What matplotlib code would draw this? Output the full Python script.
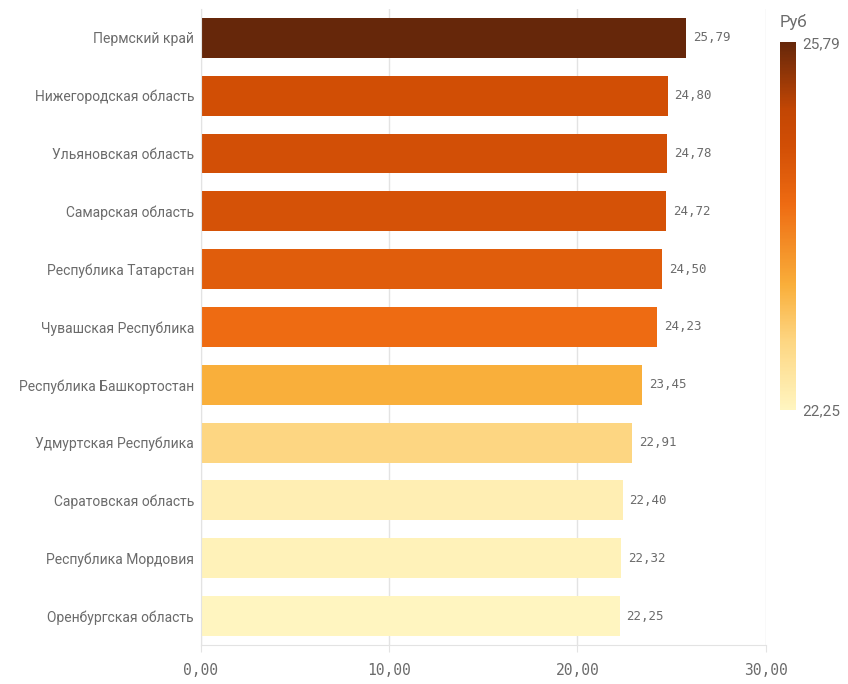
import matplotlib
matplotlib.use("Agg")
import matplotlib.pyplot as plt
import matplotlib.colors as mcolors
import matplotlib.cm as cm

regions = [
    "Пермский край",
    "Нижегородская область",
    "Ульяновская область",
    "Самарская область",
    "Республика Татарстан",
    "Чувашская Республика",
    "Республика Башкортостан",
    "Удмуртская Республика",
    "Саратовская область",
    "Республика Мордовия",
    "Оренбургская область",
]
values = [25.79, 24.80, 24.78, 24.72, 24.50, 24.23, 23.45, 22.91, 22.40, 22.32, 22.25]
x_ticks = [0, 10, 20, 30]

plt.rcParams["font.family"] = ["Roboto", "DejaVu Sans"]
text_color = "#6b6b6b"
grid_color = "#e3e3e3"

cmap = mcolors.LinearSegmentedColormap.from_list(
    "rub",
    [(0.0, "#fff5c0"), (0.19, "#fdd580"), (0.34, "#f9ae3a"), (0.56, "#ee6b12"),
     (0.72, "#d14e05"), (0.82, "#c24604"), (1.0, "#66270a")],
)
norm = mcolors.Normalize(vmin=min(values), vmax=max(values))

fig = plt.figure(figsize=(8.48, 6.84), dpi=100)
ax = fig.add_axes([0.237, 0.057, 0.666, 0.930])

ypos = list(range(len(regions)))
ax.barh(ypos, values, height=0.69, color=[cmap(norm(v)) for v in values])
for y, v in zip(ypos, values):
    ax.text(v + 0.35, y, f"{v:.2f}".replace(".", ","), va="center", ha="left",
            fontsize=9, color=text_color, family=["DejaVu Sans Mono"])

ax.set_ylim(len(regions) - 0.5, -0.5)
ax.set_xlim(0, 30)
ax.set_yticks(ypos)
ax.set_yticklabels(regions, fontsize=10, color=text_color)
ax.set_xticks(x_ticks)
ax.set_xticklabels([f"{t:.2f}".replace(".", ",") for t in x_ticks], fontsize=10.5,
                   color=text_color, family=["DejaVu Sans Mono"])
ax.tick_params(axis="y", length=0, pad=5)
ax.tick_params(axis="x", length=5, color=grid_color, pad=8)
ax.xaxis.grid(True, color=grid_color, linewidth=1)
ax.set_axisbelow(True)
for side in ["top", "right"]:
    ax.spines[side].set_visible(False)
ax.spines["left"].set_color(grid_color)
ax.spines["bottom"].set_color(grid_color)

cax = fig.add_axes([0.920, 0.401, 0.019, 0.537])
cb = fig.colorbar(cm.ScalarMappable(norm=norm, cmap=cmap), cax=cax)
cb.outline.set_visible(False)
cb.set_ticks([min(values), max(values)])
cb.set_ticklabels([f"{min(values):.2f}".replace(".", ","), f"{max(values):.2f}".replace(".", ",")])
cax.tick_params(length=0, labelsize=11, labelcolor=text_color, pad=4)
fig.text(0.919, 0.968, "Руб", fontsize=12, color=text_color, ha="left", va="center")

fig.savefig("out.png", dpi=100)
